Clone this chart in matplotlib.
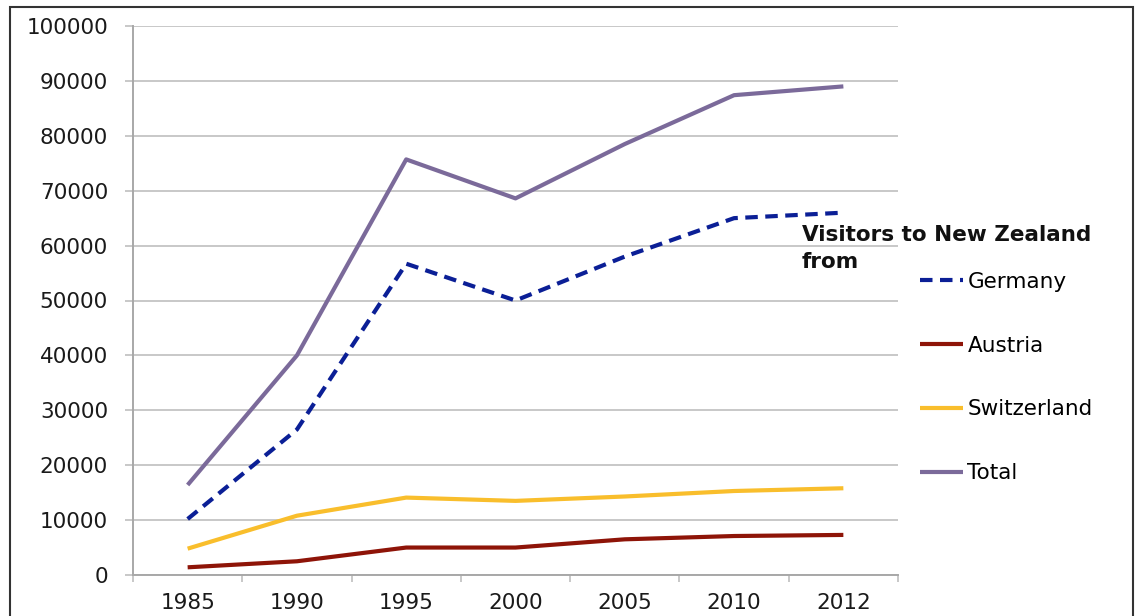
import matplotlib
matplotlib.use("Agg")
import matplotlib.pyplot as plt
from matplotlib.patches import Rectangle

YEARS = ["1985", "1990", "1995", "2000", "2005", "2010", "2012"]
GERMANY = [10200, 26500, 56700, 50000, 58000, 65000, 66000]
AUSTRIA = [1400, 2500, 5000, 5000, 6500, 7100, 7300]
SWITZERLAND = [4800, 10800, 14100, 13500, 14300, 15300, 15800]
TOTAL = [16400, 40000, 75700, 68600, 78500, 87400, 89000]

SERIES = [
    ("Germany", GERMANY, "#0B1F96", (0, (3.0, 1.8))),
    ("Austria", AUSTRIA, "#8E1408", "-"),
    ("Switzerland", SWITZERLAND, "#F9BE2C", "-"),
    ("Total", TOTAL, "#7B6A9A", "-"),
]

plt.rcParams["font.family"] = ["DejaVu Sans"]
FS = 15.5

fig = plt.figure(figsize=(11.38, 6.16), dpi=100)
ax = fig.add_axes([133 / 1138, 1 - 575 / 616, (898 - 133) / 1138, (575 - 26) / 616])

x = list(range(len(YEARS)))
handles = []
for name, values, color, ls in SERIES:
    (line,) = ax.plot(x, values, color=color, linestyle=ls, linewidth=3,
                      solid_capstyle="butt", dash_capstyle="butt", label=name)
    handles.append(line)

ax.set_xlim(-0.5, len(YEARS) - 0.5)
ax.set_ylim(0, 100000)
ax.set_yticks(range(0, 100001, 10000))
ax.set_xticks(x)
ax.set_xticklabels(YEARS)
ax.set_xticks([i - 0.5 for i in range(len(YEARS) + 1)], minor=True)

grid_color = "#C8C8C8"
ax.yaxis.grid(True, color=grid_color, linewidth=1.4)
ax.set_axisbelow(True)
for side in ("top", "right"):
    ax.spines[side].set_visible(False)
for side in ("left", "bottom"):
    ax.spines[side].set_color("#A8A8A8")
    ax.spines[side].set_linewidth(1.4)

ax.tick_params(axis="y", length=6, width=1.4, color=grid_color, pad=12,
               labelsize=FS, labelcolor="#1a1a1a")
ax.tick_params(axis="x", which="major", length=0, pad=13, labelsize=FS,
               labelcolor="#1a1a1a")
ax.tick_params(axis="x", which="minor", length=5, width=1.4, color=grid_color)

fig.text(802 / 1138, 1 - 225 / 616, "Visitors to New Zealand\nfrom", fontsize=FS,
         fontweight="bold", ha="left", va="top", color="#111111", linespacing=1.45)

fig.legend(handles=handles, loc="upper left",
           bbox_to_anchor=(920 / 1138, 1 - 272 / 616), frameon=False,
           fontsize=FS, handlelength=2.0, handletextpad=0.2, labelspacing=2.03,
           borderpad=0, borderaxespad=0)

fig.patches.append(Rectangle((10 / 1138, -0.05), (1133 - 10) / 1138, 1.05 - 7 / 616,
                             transform=fig.transFigure, fill=False,
                             edgecolor="#333333", linewidth=1.5))

fig.savefig("out.png", dpi=100)
